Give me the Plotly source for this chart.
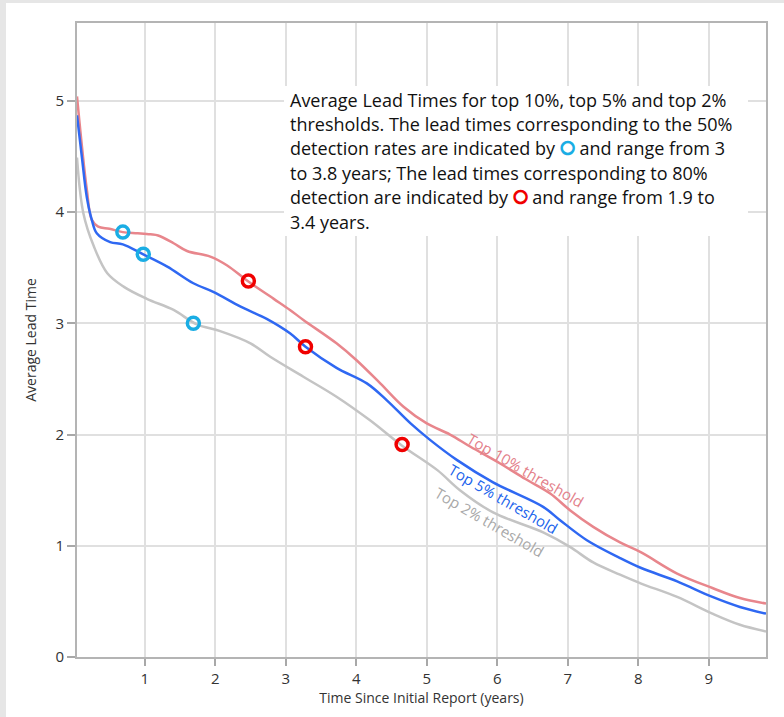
import plotly.graph_objects as go

# ---- data ----
top10_x = [0.04, 0.11, 0.18, 0.25, 0.34, 0.5, 0.69, 0.9, 1.08, 1.19, 1.41, 1.6, 1.93, 2.17, 2.46, 2.83,
           3.06, 3.25, 3.72, 4.0, 4.34, 4.67, 5.0, 5.33, 5.62, 6.04, 6.4, 6.75, 7.03, 7.36, 7.74, 8.04,
           8.55, 9.05, 9.44, 9.81]
top10_y = [5.04, 4.59, 4.20, 3.93, 3.87, 3.85, 3.82, 3.81, 3.80, 3.79, 3.72, 3.65, 3.60, 3.52, 3.38, 3.22,
           3.12, 3.03, 2.82, 2.67, 2.46, 2.25, 2.10, 2.00, 1.89, 1.74, 1.60, 1.47, 1.32, 1.17, 1.03, 0.94,
           0.75, 0.62, 0.53, 0.48]

top5_x = [0.04, 0.11, 0.18, 0.25, 0.32, 0.51, 0.69, 0.98, 1.32, 1.69, 1.98, 2.36, 2.73, 3.06, 3.28, 3.72,
          4.15, 4.43, 4.77, 5.05, 5.43, 5.94, 6.65, 6.89, 7.27, 7.74, 8.04, 8.55, 9.05, 9.44, 9.81]
top5_y = [4.87, 4.49, 4.13, 3.93, 3.81, 3.73, 3.71, 3.62, 3.51, 3.36, 3.28, 3.15, 3.04, 2.91, 2.79, 2.60,
          2.46, 2.31, 2.10, 1.95, 1.77, 1.57, 1.35, 1.23, 1.05, 0.89, 0.80, 0.68, 0.54, 0.45, 0.39]

top2_x = [0.04, 0.13, 0.28, 0.47, 0.70, 1.03, 1.41, 1.74, 2.07, 2.5, 2.78, 3.25, 3.72, 4.19, 4.65, 5.15,
          5.47, 5.94, 6.65, 7.03, 7.36, 7.74, 8.04, 8.55, 9.05, 9.44, 9.81]
top2_y = [4.49, 3.99, 3.69, 3.45, 3.33, 3.22, 3.12, 2.99, 2.93, 2.82, 2.70, 2.52, 2.34, 2.13, 1.90, 1.68,
          1.50, 1.30, 1.12, 0.99, 0.85, 0.74, 0.66, 0.54, 0.39, 0.29, 0.23]

det50_x = [0.69, 0.98, 1.69]
det50_y = [3.82, 3.62, 3.00]
det80_x = [2.47, 3.28, 4.65]
det80_y = [3.38, 2.79, 1.91]

x_ticks = [1, 2, 3, 4, 5, 6, 7, 8, 9]
y_ticks = [0, 1, 2, 3, 4, 5]

series_labels = ["Top 10% threshold", "Top 5% threshold", "Top 2% threshold"]
label_x = [6.40, 6.09, 5.89]
label_y = [1.68, 1.42, 1.21]

CYAN = "#1AADE4"
RED = "#F00000"
ring = "<span style='color:{};font-size:19px'><b>⭘</b></span>"
note_lines = [
    "Average Lead Times for top 10%, top 5% and top 2%",
    "thresholds. The lead times corresponding to the 50%",
    "detection rates are indicated by " + ring.format(CYAN) + " and range from 3",
    "to 3.8 years; The lead times corresponding to 80%",
    "detection are indicated by " + ring.format(RED) + " and range from 1.9 to",
    "3.4 years.",
]

# ---- styling ----
RED_LINE = "#E8868C"
BLUE_LINE = "#2F68F2"
GRAY_LINE = "#C4C4C4"
label_colors = ["#E3808A", "#2063EC", "#A8A8A8"]
FONT = "Open Sans"

W, H = 784, 717
ML, MR, MT, MB = 77, 18, 23, 60
PW, PH = W - ML - MR, H - MT - MB

fig = go.Figure()
fig.add_trace(go.Scatter(x=top2_x, y=top2_y, mode="lines",
                         line=dict(color=GRAY_LINE, width=2.5, shape="spline", smoothing=1.0),
                         name=series_labels[2], hoverinfo="skip"))
fig.add_trace(go.Scatter(x=top10_x, y=top10_y, mode="lines",
                         line=dict(color=RED_LINE, width=2.5, shape="spline", smoothing=1.0),
                         name=series_labels[0], hoverinfo="skip"))
fig.add_trace(go.Scatter(x=top5_x, y=top5_y, mode="lines",
                         line=dict(color=BLUE_LINE, width=2.5, shape="spline", smoothing=1.0),
                         name=series_labels[1], hoverinfo="skip"))
fig.add_trace(go.Scatter(x=det50_x, y=det50_y, mode="markers",
                         marker=dict(symbol="circle-open", size=12, color=CYAN,
                                     line=dict(width=3.5, color=CYAN)),
                         name="50% detection"))
fig.add_trace(go.Scatter(x=det80_x, y=det80_y, mode="markers",
                         marker=dict(symbol="circle-open", size=12, color=RED,
                                     line=dict(width=3.5, color=RED)),
                         name="80% detection"))

# series labels along lines
for t, lx, ly, c in zip(series_labels, label_x, label_y, label_colors):
    fig.add_annotation(x=lx, y=ly, text=t, showarrow=False, textangle=30,
                       font=dict(family=FONT, size=15, color=c))

# white note box + lines
fig.add_shape(type="rect", xref="paper", yref="paper",
              x0=(284 - ML) / PW, x1=(748 - ML) / PW,
              y0=(H - MB - 236) / PH, y1=(H - MB - 86) / PH,
              fillcolor="white", line=dict(width=0), layer="above")
line_py = [100, 124, 148, 173, 197, 222]
for txt, py in zip(note_lines, line_py):
    fig.add_annotation(xref="paper", yref="paper", x=(288 - ML) / PW, y=(H - MB - py) / PH,
                       xanchor="left", yanchor="middle", showarrow=False, text=txt,
                       font=dict(family=FONT, size=18, color="#111111"))

# page border (light gray band on left/top)
fig.add_shape(type="rect", xref="paper", yref="paper",
              x0=(6 - ML) / PW, x1=(W + 10 - ML) / PW,
              y0=(-MB - 10) / PH, y1=(H - MB - 3) / PH,
              fillcolor="white", line=dict(width=0), layer="below")

fig.update_layout(
    width=W, height=H,
    margin=dict(l=ML, r=MR, t=MT, b=MB),
    paper_bgcolor="#E6E6E6",
    plot_bgcolor="rgba(0,0,0,0)",
    showlegend=False,
    font=dict(family=FONT, size=14, color="#333333"),
    xaxis=dict(range=[0.04, 9.81], tickvals=x_ticks, ticks="outside", ticklen=7,
               tickcolor="#A8A8A8", tickwidth=1.5,
               showgrid=True, gridcolor="#E0E0E0", gridwidth=1.5,
               showline=True, linecolor="#B4B4B4", linewidth=2, mirror=True,
               zeroline=False, tickfont=dict(size=15, color="#333"),
               title=dict(text="Time Since Initial Report (years)", standoff=6,
                          font=dict(size=14, color="#333"))),
    yaxis=dict(range=[0, 5.7], tickvals=y_ticks, ticks="outside", ticklen=8,
               tickcolor="#A8A8A8", tickwidth=1.5,
               showgrid=True, gridcolor="#E0E0E0", gridwidth=1.5,
               showline=True, linecolor="#B4B4B4", linewidth=2, mirror=True,
               zeroline=False, tickfont=dict(size=15, color="#333"),
               title=dict(text="Average Lead Time", standoff=16,
                          font=dict(size=14, color="#333"))),
)

fig.write_html("out.html")
